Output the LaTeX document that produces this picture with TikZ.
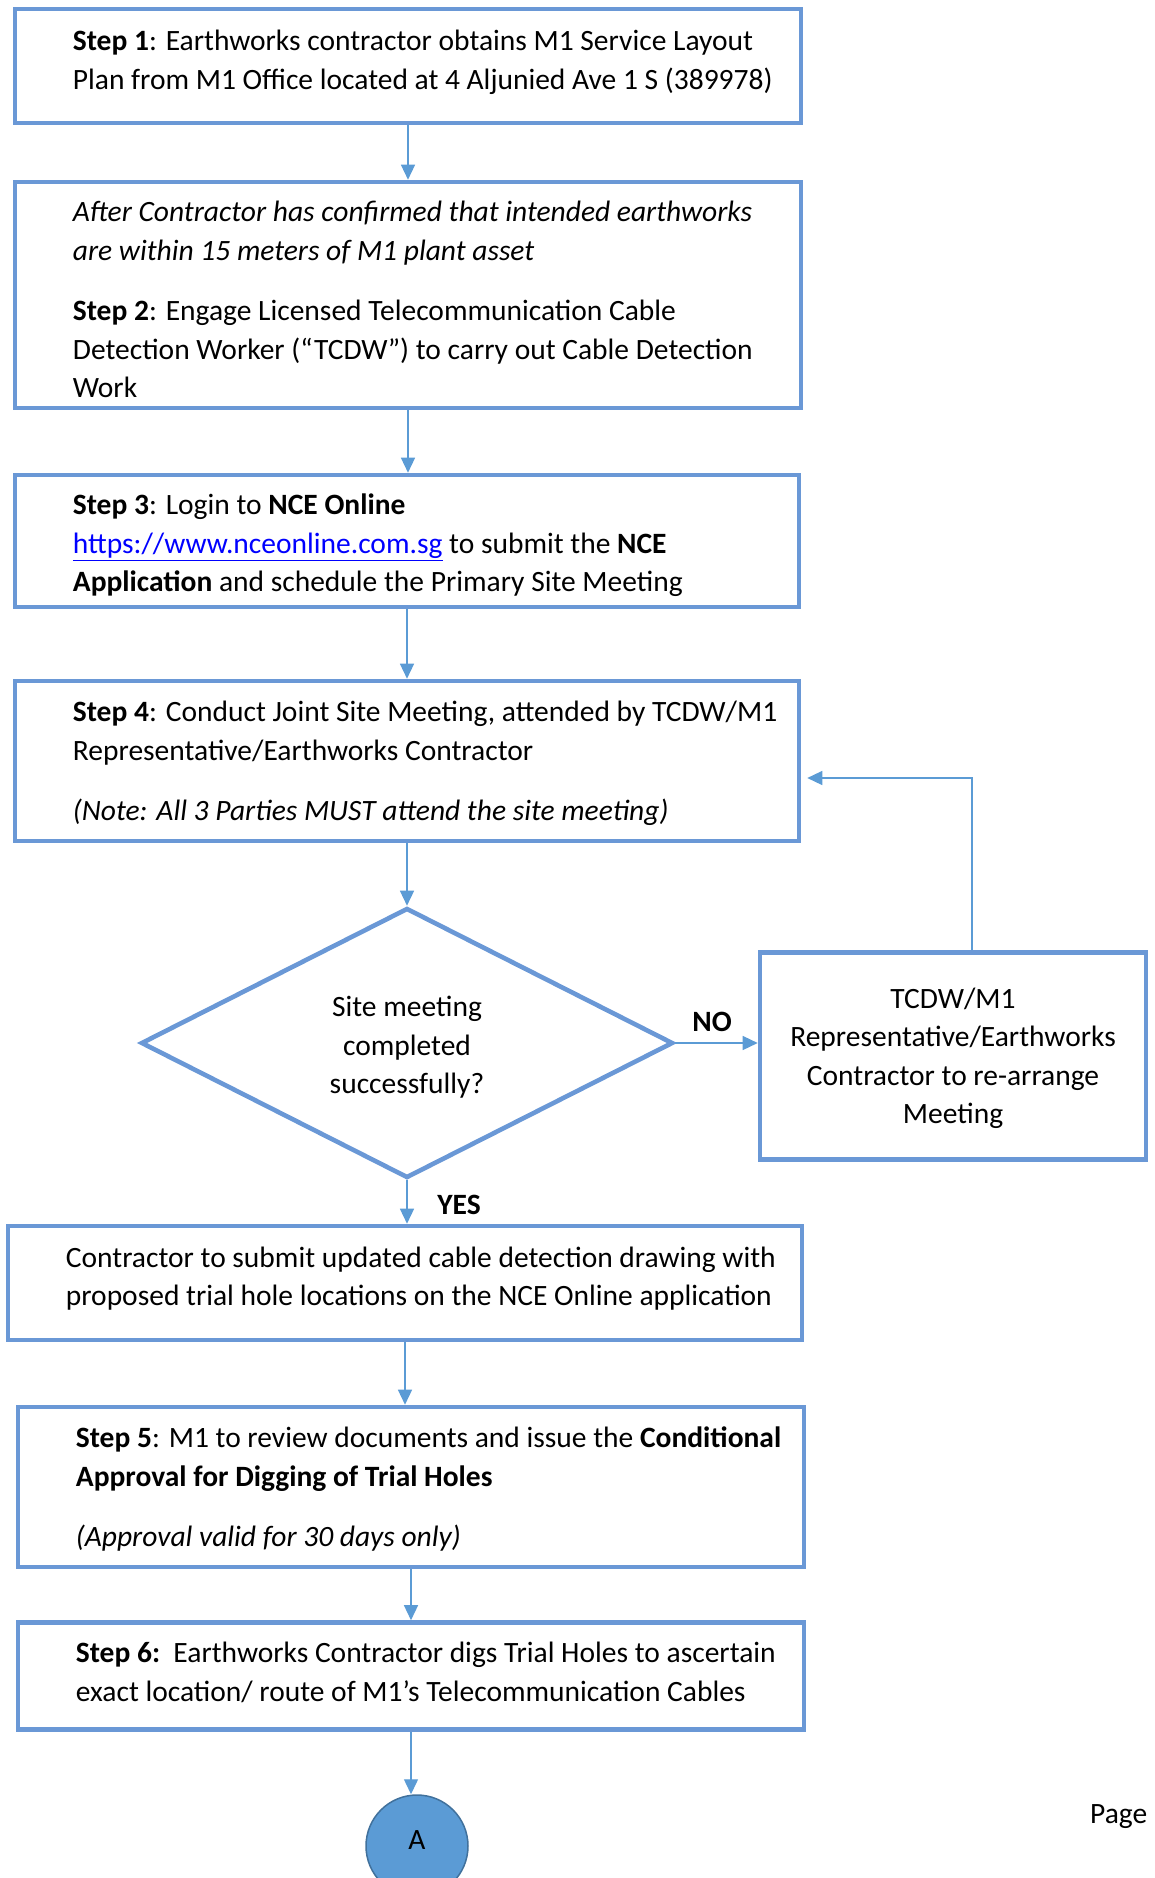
\documentclass[tikz,border=0pt]{standalone}
\usepackage{fontspec}
\setmainfont{Carlito}
\usetikzlibrary{arrows.meta, positioning, shapes.geometric, calc}
\definecolor{cframe}{HTML}{6A98D6}
\definecolor{cline}{HTML}{5B9BD5}
\definecolor{cdark}{HTML}{41719C}
\definecolor{clink}{HTML}{0000FF}
\tikzset{
  every picture/.style={font=\fontsize{29.5}{38.5}\selectfont},
  box/.style={draw=cframe, line width=4.6pt, rectangle, inner sep=0pt},
  arrow/.style={-{Triangle[length=15pt, width=14pt]}, draw=cline, line width=1.4pt},
  note/.style={align=left, inner sep=0pt, anchor=west},
  tag/.style={font=\fontsize{29.5}{38.5}\selectfont\bfseries, inner sep=0pt},
}

\begin{document}
\begin{tikzpicture}[x=1pt, y=-1pt, wide/.style={box, minimum width=#1}]
  \useasboundingbox (0,0) rectangle (1155,1878);
  \node[wide=786pt, minimum height=114pt] (s1) at (408,66) {};
  \node[note] (s1t) at ([xshift=60pt, yshift=3.5pt]s1.west) {\textbf{Step 1}: Earthworks contractor obtains M1 Service Layout\\Plan from M1 Office located at 4 Aljunied Ave 1 S (389978)};
  \node[wide=786pt, minimum height=226pt] (s2) at (408,295) {};
  \node[note] (s2t) at ([xshift=60pt, yshift=-4.5pt]s2.west) {\textit{After Contractor has confirmed that intended earthworks}\\\textit{are within 15 meters of M1 plant asset}\\[22pt]\textbf{Step 2}: Engage Licensed Telecommunication Cable\\Detection Worker (“TCDW”) to carry out Cable Detection\\Work};
  \node[wide=784pt, minimum height=132pt] (s3) at (407,541) {};
  \node[note] (s3t) at ([xshift=60pt, yshift=-4.5pt]s3.west) {\textbf{Step 3}: Login to \textbf{NCE Online}\\\textcolor{clink}{\underline{https://www.nceonline.com.sg}} to submit the \textbf{NCE}\\\textbf{Application} and schedule the Primary Site Meeting};
  \node[wide=784pt, minimum height=160pt] (s4) at (407,761) {};
  \node[note] (s4t) at ([xshift=60pt, yshift=-2.5pt]s4.west) {\textbf{Step 4}: Conduct Joint Site Meeting, attended by TCDW/M1\\Representative/Earthworks Contractor\\[22pt]\textit{(Note: All 3 Parties MUST attend the site meeting)}};
  \node[draw=cframe, line width=4.6pt, diamond, aspect=1.97, minimum width=532pt, minimum height=270pt, inner sep=0pt] (check) at (407,1043) {};
  \node[align=center, inner sep=0pt] (checkt) at ([yshift=-4.5pt]check.center) {Site meeting\\completed\\successfully?};
  \node[wide=386pt, minimum height=207pt] (redo) at (953,1056) {};
  \node[align=center, inner sep=0pt] (redot) at ([yshift=-2.5pt]redo.center) {TCDW/M1\\Representative/Earthworks\\Contractor to re-arrange\\Meeting};
  \node[wide=794pt, minimum height=114pt] (s5) at (405,1283) {};
  \node[note] (s5t) at ([xshift=60pt, yshift=4.5pt]s5.west) {Contractor to submit updated cable detection drawing with\\proposed trial hole locations on the NCE Online application};
  \node[wide=786pt, minimum height=160pt] (s6) at (411,1487) {};
  \node[note] (s6t) at ([xshift=60pt, yshift=-2pt]s6.west) {\textbf{Step 5}: M1 to review documents and issue the \textbf{Conditional}\\\textbf{Approval for Digging of Trial Holes}\\[22pt]\textit{(Approval valid for 30 days only)}};
  \node[wide=786pt, minimum height=107pt] (s7) at (411,1676) {};
  \node[note] (s7t) at ([xshift=60pt, yshift=3.5pt]s7.west) {\textbf{Step 6:}\ \ Earthworks Contractor digs Trial Holes to ascertain\\exact location/ route of M1’s Telecommunication Cables};
  \node[circle, draw=cdark, fill=cline, line width=1.5pt, minimum size=102pt, inner sep=0pt] (endA) at (417,1846) {};
  \node[inner sep=0pt] (endAt) at (417,1840) {A};
  \node[note] (pg) at (1090,1817) {Page};
  % straight runs down the page
  \foreach \a/\b in {s1/s2, s2/s3, s3/s4, s4/check, check/s5, s5/s6, s6/s7, s7/endA}
    \draw[arrow] (\a.south) -- (\a.south |- \b.north);
  \draw[arrow] (check.east) -- (check.east -| redo.west);
  \draw[arrow] ([xshift=19pt]redo.north) |- ([xshift=6pt, yshift=-17pt]s4.east);
  \node[tag] (no) at (712,1022) {NO};
  \node[tag] (yes) at (459,1205) {YES};
\end{tikzpicture}
\end{document}
